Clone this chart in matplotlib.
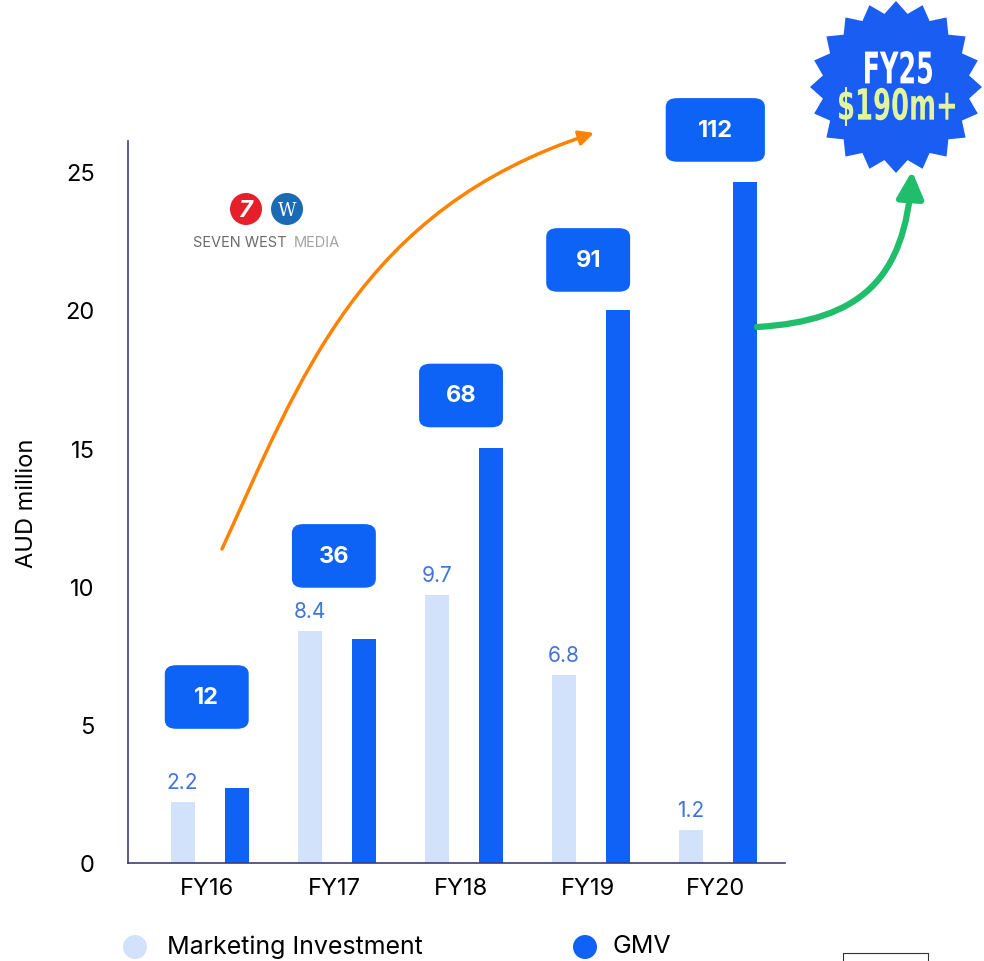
import numpy as np
import matplotlib.pyplot as plt
from matplotlib.patches import FancyBboxPatch, Circle, Polygon, FancyArrowPatch, PathPatch
from matplotlib.path import Path
from matplotlib.textpath import TextPath
from matplotlib.font_manager import FontProperties
from matplotlib.transforms import Affine2D

plt.rcParams['font.family'] = ['Inter', 'DejaVu Sans']

years = ['FY16', 'FY17', 'FY18', 'FY19', 'FY20']
marketing = [2.2, 8.4, 9.7, 6.8, 1.2]
gmv_bar = [2.7, 8.1, 15.0, 20.0, 24.6]
gmv_labels = ['12', '36', '68', '91', '112']
gmv_label_y = [6.0, 11.1, 16.9, 21.8, 26.5]

light = '#d3e2fb'
blue = '#0f62f5'

fig = plt.figure(figsize=(9.84, 9.62), dpi=100)
ax = fig.add_axes([0.130, 0.1019, 0.668, 0.7505])

x = np.arange(len(years))
w = 0.19
ax.bar(x - 0.19, marketing, w, color=light)
ax.bar(x + 0.235, gmv_bar, w, color=blue)

for i, v in enumerate(marketing):
    ax.text(x[i] - 0.19, v + 0.35, f'{v}', ha='center', va='bottom',
            fontsize=15, color='#3f74d8')

for i, lab in enumerate(gmv_labels):
    bw = 0.66 if len(lab) < 3 else 0.78
    bh = 2.3
    box = FancyBboxPatch((x[i] - bw / 2, gmv_label_y[i] - bh / 2), bw, bh,
                         boxstyle='round,pad=0,rounding_size=0.09',
                         mutation_aspect=3.5,
                         fc='#0d63f6', ec='none', clip_on=False, zorder=3)
    ax.add_patch(box)
    ax.text(x[i], gmv_label_y[i], lab, ha='center', va='center', color='white',
            fontsize=17, fontweight='bold', zorder=4)

ax.set_xlim(-0.62, 4.55)
ax.set_ylim(0, 26.1)
ax.set_xticks(x)
ax.set_xticklabels(years, fontsize=17)
ax.set_yticks([0, 5, 10, 15, 20, 25])
ax.tick_params(length=0, labelsize=17, pad=10)
ax.tick_params(axis='y', pad=24)
ax.set_ylabel('AUD million', fontsize=17, labelpad=20)
for s in ['top', 'right']:
    ax.spines[s].set_visible(False)
for s in ['left', 'bottom']:
    ax.spines[s].set_color('#3d3d7a')
    ax.spines[s].set_linewidth(1.2)

# overlay in pixel coordinates for decorations
ov = fig.add_axes([0, 0, 1, 1], zorder=5)
ov.set_xlim(0, 984)
ov.set_ylim(962, 0)
ov.axis('off')

# orange growth arrow
verts = [(222, 550), (300, 380), (360, 210), (594, 134)]
p = Path(verts, [Path.MOVETO, Path.CURVE4, Path.CURVE4, Path.CURVE4])
ov.add_patch(FancyArrowPatch(path=p, arrowstyle='-|>', mutation_scale=22,
                             color='#ff8200', lw=2.5))

# green arrow to badge
verts = [(757, 328), (860, 322), (905, 280), (912, 172)]
p = Path(verts, [Path.MOVETO, Path.CURVE4, Path.CURVE4, Path.CURVE4])
ov.add_patch(FancyArrowPatch(path=p, arrowstyle='-|>', mutation_scale=40,
                             color='#20bd6a', lw=4.5))

# starburst badge
n = 20
ang = np.linspace(0, 2 * np.pi, 2 * n, endpoint=False) - np.pi / 2
rad = np.where(np.arange(2 * n) % 2 == 0, 86, 74)
pts = np.column_stack([896 + rad * np.cos(ang), 88 + rad * np.sin(ang)])
ov.add_patch(Polygon(pts, closed=True, fc='#1a5df2', ec='none'))


def boxed_text(s, x0, x1, y0, y1, color):
    # condensed bold text squeezed into a pixel box
    tp = TextPath((0, 0), s, size=40, prop=FontProperties(family='DejaVu Sans', weight='bold'))
    ext = tp.get_extents()
    sx = (x1 - x0) / ext.width
    sy = (y1 - y0) / ext.height
    tr = Affine2D().translate(-ext.x0, -ext.y0).scale(sx, -sy).translate(x0, y1)
    ov.add_patch(PathPatch(tr.transform_path(tp), fc=color, ec='none'))


boxed_text('FY25', 865, 932, 52, 85, 'white')
boxed_text('$190m+', 839, 955, 88, 127, '#e3f59b')

# logo
ov.add_patch(Circle((246, 210), 16, fc='#e5202b', ec='none'))
ov.add_patch(Circle((287, 210), 16, fc='#1b6bb4', ec='none'))
ov.text(245, 211, '7', ha='center', va='center', color='white', fontsize=17,
        fontweight='bold', fontstyle='italic')
ov.text(287, 211, 'W', ha='center', va='center', color='white', fontsize=13,
        family='DejaVu Serif')
ov.text(193, 243, 'SEVEN WEST ', ha='left', va='center', color='#6b6b6b', fontsize=10.5)
ov.text(294, 243, 'MEDIA', ha='left', va='center', color='#a3a3a3', fontsize=10.5)

# legend
ov.add_patch(Circle((135, 948), 12, fc=light, ec='none'))
ov.text(167, 947, 'Marketing Investment', ha='left', va='center', fontsize=18)
ov.add_patch(Circle((585, 948), 12, fc=blue, ec='none'))
ov.text(612, 947, 'GMV', ha='left', va='center', fontsize=18)

# small artifact bottom-right
ov.plot([843, 843, 928, 928], [962, 954, 954, 962], color='#333333', lw=0.8)

fig.savefig('out.png', dpi=100)
